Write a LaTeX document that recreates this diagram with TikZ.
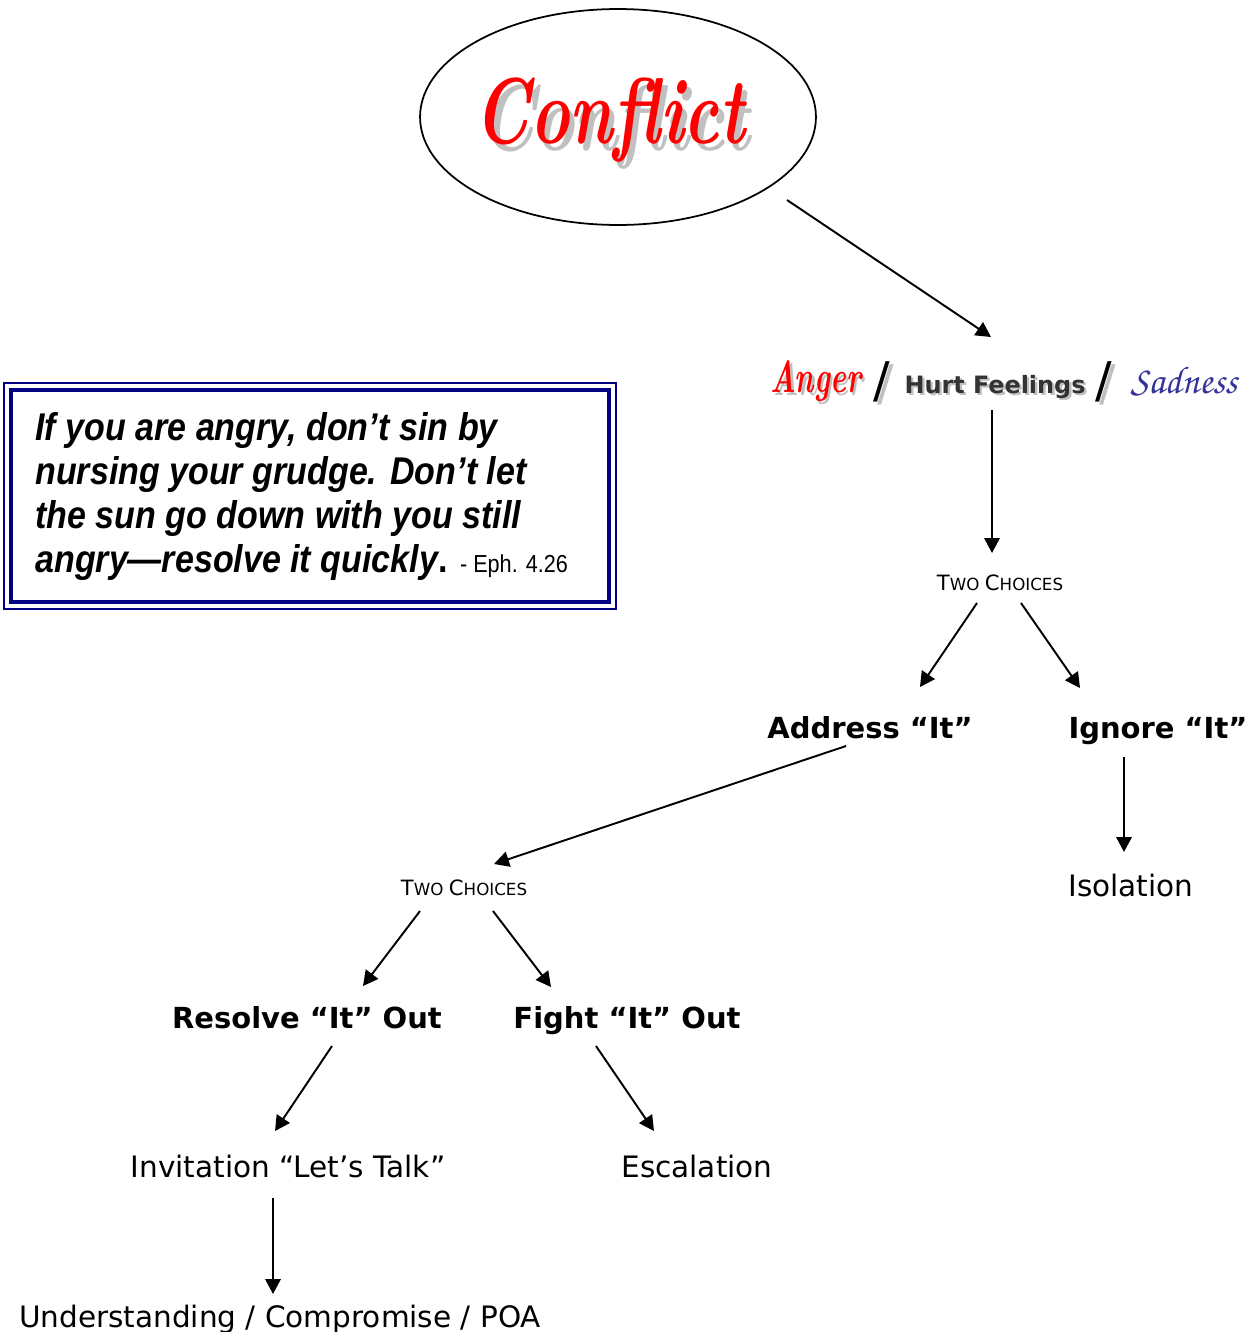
\documentclass[tikz,border=0pt]{standalone}
\usepackage[T1]{fontenc}
\usepackage{fontspec}
\usetikzlibrary{arrows.meta,shapes.geometric}

\newfontfamily\vfont{DejaVu Sans}
\newfontfamily\qfont[FakeStretch=0.88]{Liberation Sans}
\newcommand\chancery{\fontencoding{T1}\fontfamily{pzc}\fontseries{mb}\fontshape{it}\selectfont}
\newcommand\twochoices{{\fontsize{12}{14}\selectfont T}{\fontsize{9.5}{12}\selectfont WO} {\fontsize{12}{14}\selectfont C}{\fontsize{9.5}{12}\selectfont HOICES}}
\newcommand\shadowed[3]{\leavevmode\rlap{\hspace{#3}\raisebox{-#3}{\color{shadowgray}#2}}{\color{#1}#2}}

\definecolor{shadowgray}{HTML}{C0C0C0}
\definecolor{navyline}{HTML}{000080}
\definecolor{sadblue}{HTML}{333399}
\definecolor{hurtgray}{HTML}{333333}

\tikzset{
  arr/.style={line width=1.1pt,-{Triangle[length=3mm,width=3.1mm]}},
  lbl/.style={inner sep=0pt,anchor=base,font=\vfont\fontsize{16.8}{20}\selectfont},
  blbl/.style={lbl,font=\vfont\bfseries\fontsize{16.5}{20}\selectfont},
  chc/.style={inner sep=0pt,anchor=base,font=\vfont},
  word/.style={inner sep=0pt,anchor=base},
}

\begin{document}
\begin{tikzpicture}[x=0.02cm,y=-0.02cm]
\useasboundingbox (0,0) rectangle (1260,1332);
% conflict bubble
\node[draw,line width=1pt,ellipse,minimum width=7.92cm,minimum height=4.32cm] (conflict) at (618,117) {};
\node[word] (conflictlbl) at (610,143) {\fontsize{38}{40}\selectfont\bfseries\itshape\scalebox{1}[1.4]{\shadowed{red}{Conflict}{0.08em}}};
% feelings row
\node[word] (anger) at (816,392) {\fontsize{17}{20}\selectfont\bfseries\itshape\scalebox{1}[1.5]{\shadowed{red}{Anger}{0.08em}}};
\node[word] (slashA) at (882,397) {\vfont\fontsize{28}{30}\selectfont\shadowed{black}{/}{0.08em}};
\node[word] (hurt) at (995,393) {\vfont\bfseries\fontsize{13.6}{16}\selectfont\shadowed{hurtgray}{Hurt Feelings}{0.1em}};
\node[word] (slashB) at (1104,397) {\vfont\fontsize{28}{30}\selectfont\shadowed{black}{/}{0.08em}};
\node[word] (sadness) at (1184,393) {\color{sadblue}\chancery\fontsize{22}{24}\selectfont Sadness};
% choices
\node[chc] (choices1) at (1000,590) {\twochoices};
\node[blbl] (address) at (870,738) {Address “It”};
\node[blbl] (ignore) at (1158,738) {Ignore “It”};
\node[lbl] (isolation) at (1131,896) {Isolation};
\node[chc] (choices2) at (464,895) {\twochoices};
\node[blbl] (resolve) at (307,1028) {Resolve “It” Out};
\node[blbl] (fight) at (627,1028) {Fight “It” Out};
\node[lbl] (invite) at (288,1177) {Invitation “Let’s Talk”};
\node[lbl] (escal) at (697,1177) {Escalation};
\node[lbl] (underst) at (280,1327) {Understanding / Compromise / POA};
% quote box
\draw[navyline,line width=0.9pt] (4,383) rectangle (616,609);
\draw[navyline,line width=2.8pt] (11,390) rectangle (609,602);
\node[inner sep=0pt,anchor=north west,align=left,font=\qfont\fontsize{22}{25}\selectfont\bfseries\itshape] (quote) at (35,412)
  {If you are angry, don’t sin by\\ nursing your grudge. Don’t let\\ the sun go down with you still\\ angry—resolve it quickly{\upshape.} {\mdseries\upshape\fontsize{14}{25}\selectfont - Eph. 4.26}};
% connectors
\draw[arr] ([shift={(169,83)}]conflict.center) -- ([shift={(-4,-56)}]hurt.base);
\draw[arr] ([shift={(-3,17)}]hurt.base) -- ([shift={(-8,-37)}]choices1.base);
\draw[arr] ([shift={(-23,13)}]choices1.base) -- ([shift={(50,-51)}]address.base);
\draw[arr] ([shift={(21,13)}]choices1.base) -- ([shift={(-78,-50)}]ignore.base);
\draw[arr] ([shift={(-34,19)}]ignore.base) -- ([shift={(-7,-44)}]isolation.base);
\draw[arr] ([shift={(-24,8)}]address.base) -- ([shift={(30,-31)}]choices2.base);
\draw[arr] ([shift={(-44,16)}]choices2.base) -- ([shift={(56,-42)}]resolve.base);
\draw[arr] ([shift={(29,16)}]choices2.base) -- ([shift={(-76,-41)}]fight.base);
\draw[arr] ([shift={(25,18)}]resolve.base) -- ([shift={(-13,-46)}]invite.base);
\draw[arr] ([shift={(-31,18)}]fight.base) -- ([shift={(-43,-46)}]escal.base);
\draw[arr] ([shift={(-15,21)}]invite.base) -- ([shift={(-7,-33)}]underst.base);
\end{tikzpicture}
\end{document}
